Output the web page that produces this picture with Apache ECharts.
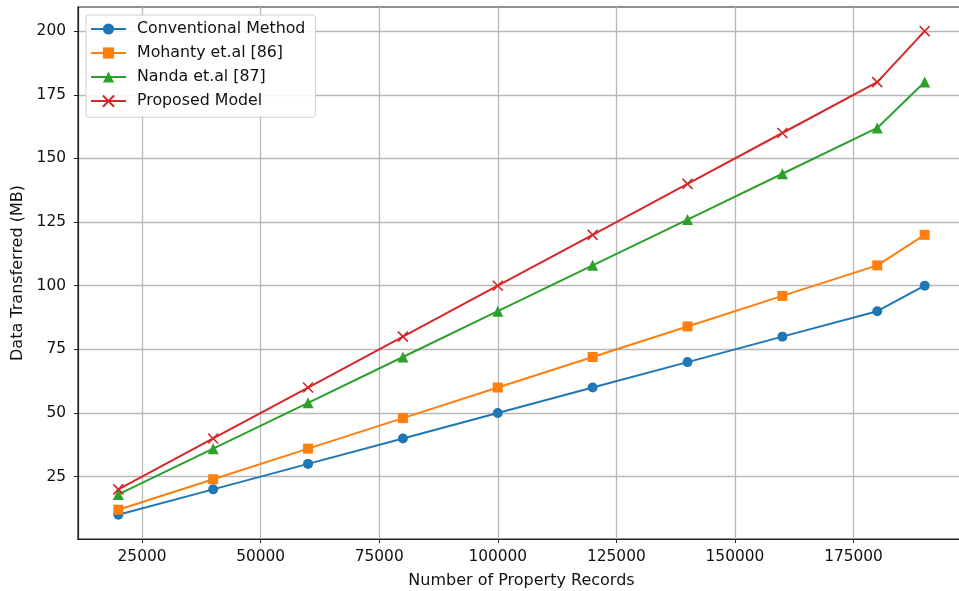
<!DOCTYPE html>
<html>
<head>
<meta charset="utf-8">
<script src="https://cdn.jsdelivr.net/npm/echarts@6/dist/echarts.min.js"></script>
<style>
  html, body { margin: 0; padding: 0; background: #fff; }
  #chart { width: 959px; height: 591px; }
</style>
</head>
<body>
<div id="chart"></div>
<script>
  // data
  var records = [20000, 40000, 60000, 80000, 100000, 120000, 140000, 160000, 180000, 190000]
  var conventional = [10, 20, 30, 40, 50, 60, 70, 80, 90, 100]
  var mohanty = [12, 24, 36, 48, 60, 72, 84, 96, 108, 120]
  var nanda = [18, 36, 54, 72, 90, 108, 126, 144, 162, 180]
  var proposed = [20, 40, 60, 80, 100, 120, 140, 160, 180, 200]
  var xTicks = [25000, 50000, 75000, 100000, 125000, 150000, 175000]
  var yTicks = [25, 50, 75, 100, 125, 150, 175, 200]

  var font = 'DejaVu Sans'

  function pairs(vals) {
    return records.map(function (r, i) { return [r, vals[i]] })
  }

  function mkSeries(name, vals, color, symbol, size) {
    return {
      name: name,
      type: 'line',
      data: pairs(vals),
      symbol: symbol,
      symbolSize: size,
      showAllSymbol: true,
      lineStyle: { color: color, width: 2 },
      itemStyle: { color: color, borderWidth: 0 },
      emphasis: { disabled: true },
      animation: false
    }
  }

  var crossPath = 'path://M0,0L10,10M10,0L0,10'

  var myChart = echarts.init(document.getElementById('chart'))
  var option = {
    animation: false,
    textStyle: { fontFamily: font },
    grid: {
      left: 78,
      top: 7,
      width: 887,
      height: 532,
      show: true,
      borderColor: '#222',
      borderWidth: 1.2,
      containLabel: false,
      outerBoundsMode: 'none'
    },
    legend: {
      left: 86,
      top: 15,
      orient: 'vertical',
      itemWidth: 35,
      itemHeight: 14,
      itemGap: 8,
      padding: [6, 10, 8, 4],
      backgroundColor: 'rgba(255,255,255,0.85)',
      borderColor: '#d0d0d0',
      borderWidth: 1,
      borderRadius: 3,
      textStyle: { fontFamily: font, fontSize: 15.8, color: '#111', padding: [0, 0, 0, 6] },
      data: ['Conventional Method', 'Mohanty et.al [86]', 'Nanda et.al [87]', 'Proposed Model']
    },
    xAxis: {
      type: 'value',
      min: 11500,
      max: 198500,
      name: 'Number of Property Records',
      nameLocation: 'middle',
      nameGap: 34,
      nameTextStyle: { fontFamily: font, fontSize: 16, color: '#111' },
      axisLine: { show: true, lineStyle: { color: '#222', width: 1.2 } },
      axisTick: { show: true, inside: false, length: 4, customValues: xTicks, lineStyle: { color: '#222' } },
      axisLabel: {
        customValues: xTicks,
        formatter: function (v) { return String(v) },
        fontFamily: font, fontSize: 15.4, color: '#111', margin: 10
      },
      splitLine: { show: true, lineStyle: { color: '#b8b8b8', width: 1.3 } }
    },
    yAxis: {
      type: 'value',
      min: 0.5,
      max: 209.5,
      name: 'Data Transferred (MB)',
      nameLocation: 'middle',
      nameGap: 47,
      nameRotate: 90,
      nameTextStyle: { fontFamily: font, fontSize: 16, color: '#111' },
      axisLine: { show: true, lineStyle: { color: '#222', width: 1.2 } },
      axisTick: { show: true, inside: false, length: 4, customValues: yTicks, lineStyle: { color: '#222' } },
      axisLabel: {
        customValues: yTicks,
        formatter: function (v) { return String(v) },
        fontFamily: font, fontSize: 15.4, color: '#111', margin: 12
      },
      splitLine: { show: true, lineStyle: { color: '#b8b8b8', width: 1.3 } }
    },
    series: [
      mkSeries('Conventional Method', conventional, '#1f77b4', 'circle', 10),
      mkSeries('Mohanty et.al [86]', mohanty, '#ff7f0e', 'rect', 10),
      mkSeries('Nanda et.al [87]', nanda, '#2ca02c', 'triangle', 11),
      {
        name: 'Proposed Model',
        type: 'line',
        data: pairs(proposed),
        symbol: crossPath,
        symbolSize: 10,
        showAllSymbol: true,
        lineStyle: { color: '#d62728', width: 2 },
        itemStyle: { color: 'none', borderColor: '#d62728', borderWidth: 1.6 },
        emphasis: { disabled: true },
        animation: false
      }
    ]
  }
  myChart.setOption(option)
</script>
</body>
</html>
